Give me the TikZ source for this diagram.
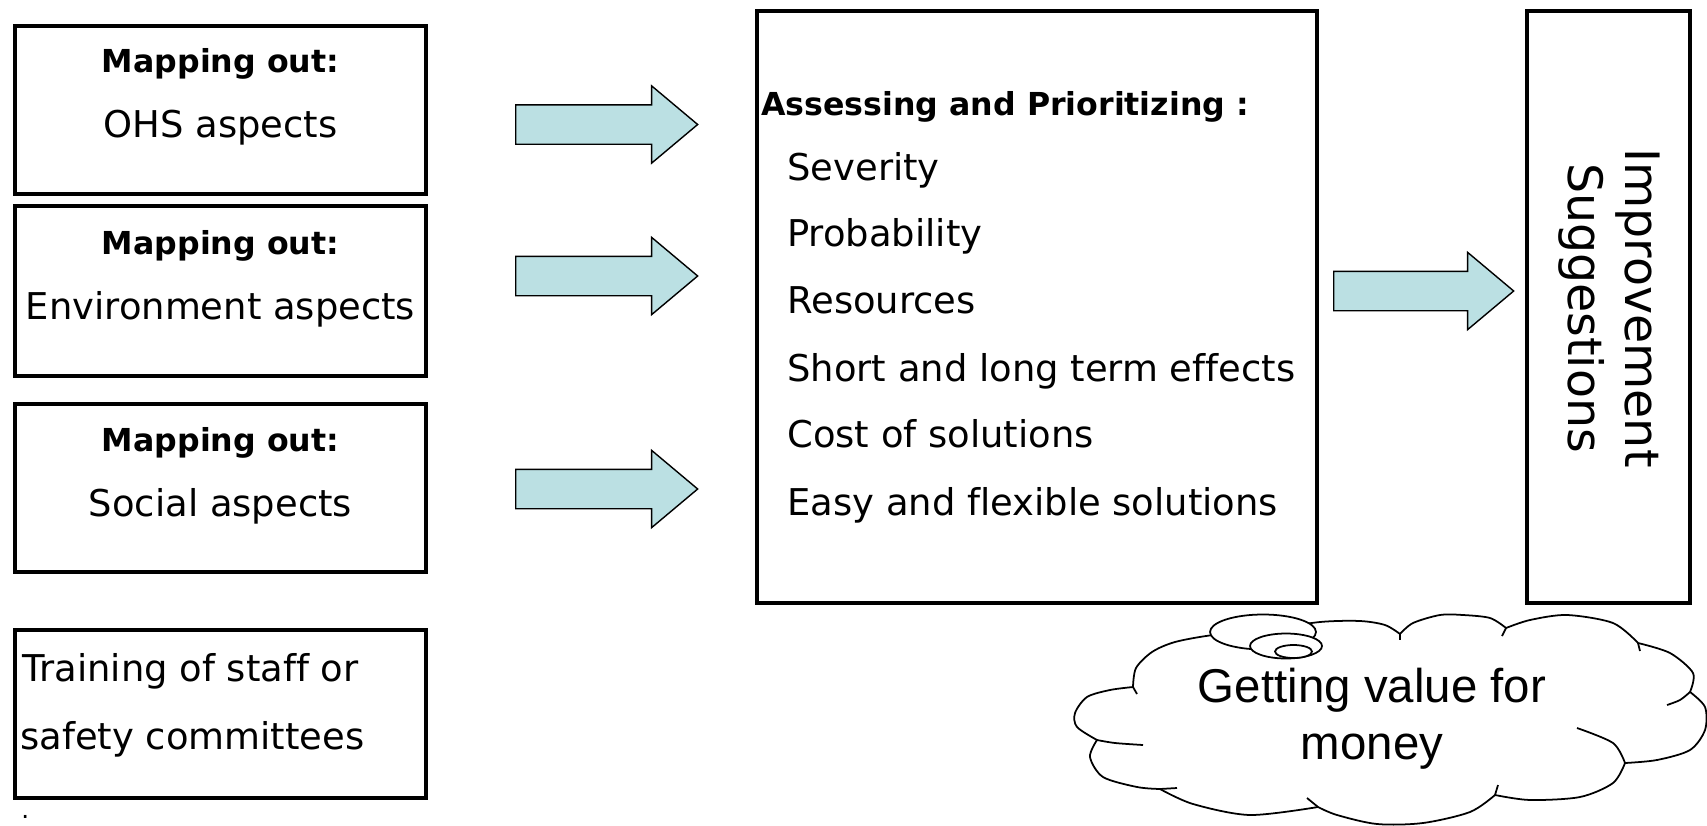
\documentclass[tikz,border=0pt]{standalone}
\usepackage{fontspec}
\setmainfont{DejaVu Sans}[Ligatures=NoCommon]
\newfontfamily\arialfont{Liberation Sans}
\usetikzlibrary{shapes.arrows,shapes.geometric}
\definecolor{arrowfill}{RGB}{187,224,227}
\tikzset{
  aspectbox/.style={draw,line width=2.3pt,minimum width=8.22cm,minimum height=3.36cm,inner sep=0pt},
  tallbox/.style={draw,line width=2.3pt,minimum height=11.84cm,inner sep=0pt},
  fatarrow/.style={single arrow,draw,fill=arrowfill,line width=0.8pt,inner xsep=0pt,inner ysep=0.38cm,
    single arrow head extend=0.38cm,single arrow tip angle=80,minimum height=3.64cm,anchor=tail},
  headtxt/.style={font=\bfseries\fontsize{18}{21.6}\selectfont,inner sep=0pt},
  itemtxt/.style={font=\fontsize{21}{25.2}\selectfont,inner sep=0pt},
  cloudline/.style={line width=1pt,line join=round},
  bubble/.style={ellipse,draw,fill=white,line width=1pt,inner sep=0pt},
}
\begin{document}
\begin{tikzpicture}[x=0.02cm,y=-0.02cm]
\useasboundingbox(0,0)rectangle(1707,825);
% left column
\node[aspectbox](ohs)at(220.5,110){};
\node[aspectbox,minimum height=3.4cm](env)at(220.5,291){};
\node[aspectbox](social)at(220.5,488){};
\node[aspectbox](training)at(220.5,714){};
\node[headtxt,anchor=base](ohshead)at(220.5,72.5){Mapping out:};
\node[itemtxt,anchor=base](ohstxt)at(220.5,137){OHS aspects};
\node[headtxt,anchor=base](envhead)at(220.5,254){Mapping out:};
\node[itemtxt,anchor=base](envtxt)at(220.5,319){Environment aspects};
\node[headtxt,anchor=base](socialhead)at(220.5,451){Mapping out:};
\node[itemtxt,anchor=base](socialtxt)at(220.5,516){Social aspects};
\node[itemtxt,anchor=base west](traina)at(22,681){Training of staff or};
\node[itemtxt,anchor=base west](trainb)at(20,749){safety committees};
\node[font=\fontsize{14}{16}\selectfont,inner sep=0pt,anchor=base west](dot)at(21,818){.};
% arrows
\node[fatarrow](arrowohs)at(515,124.5){};
\node[fatarrow](arrowenv)at(515,276){};
\node[fatarrow](arrowsocial)at(515,489){};
\node[fatarrow,minimum height=3.6cm](arrowassess)at(1333,291){};
% assessing box
\node[tallbox,minimum width=11.2cm](assess)at(1037,307){};
\node[headtxt,anchor=base west](assesshead)at(761,115){Assessing and Prioritizing :};
\node[itemtxt,anchor=base west](severity)at(787,180){Severity};
\node[itemtxt,anchor=base west](probability)at(787,246){Probability};
\node[itemtxt,anchor=base west](resources)at(787,313){Resources};
\node[itemtxt,anchor=base west](effects)at(787,381){Short and long term effects};
\node[itemtxt,anchor=base west](cost)at(787,447){Cost of solutions};
\node[itemtxt,anchor=base west](flexible)at(787,515){Easy and flexible solutions};
% suggestions box
\node[tallbox,minimum width=3.26cm](improve)at(1608.5,307){};
\node[rotate=-90,align=center,font=\fontsize{27}{32.4}\selectfont,inner sep=0pt](improvetxt)at(1609.5,308){Improvement\\Suggestions};
% cloud
\draw[cloudline,fill=white]
  plot[smooth]coordinates{(1133,687)(1136,668)(1152,652)(1175,642)(1213,635)(1265,630)}
  --plot[smooth]coordinates{(1265,630)(1320,622)(1360,621)(1385,625)(1400,634)}
  --plot[smooth]coordinates{(1400,634)(1413,623)(1440,615)(1463,615)(1490,618)(1506,628)}
  --plot[smooth]coordinates{(1506,628)(1530,620)(1567,615)(1613,623)(1638,643)}
  --plot[smooth]coordinates{(1638,643)(1670,653)(1693,673)(1690,692)}
  --plot[smooth]coordinates{(1690,692)(1705,707)(1705,730)(1690,750)(1657,760)(1625,763)}
  --plot[smooth]coordinates{(1625,763)(1613,783)(1580,797)(1530,800)(1495,795)}
  --plot[smooth]coordinates{(1495,795)(1470,812)(1423,823)(1377,824)(1337,815)(1318,807)}
  --plot[smooth]coordinates{(1318,807)(1250,815)(1193,804)(1160,789)}
  --plot[smooth]coordinates{(1160,789)(1137,787)(1103,777)(1090,757)(1097,740)}
  --plot[smooth]coordinates{(1097,740)(1077,727)(1075,713)(1087,697)(1110,690)(1133,687)}
  --cycle;
\draw[cloudline](1133,687)--(1137,694);
\draw[cloudline]plot[smooth]coordinates{(1097,740)(1115,743)(1143,745)};
\draw[cloudline](1160,789)--(1177,788);
\draw[cloudline](1318,807)--(1307,798);
\draw[cloudline](1495,795)--(1498,785);
\draw[cloudline]plot[smooth]coordinates{(1625,763)(1613,743)(1577,728)};
\draw[cloudline]plot[smooth]coordinates{(1690,692)(1680,700)(1667,705)};
\draw[cloudline](1638,643)--(1640,651);
\draw[cloudline](1506,628)--(1502,636);
\draw[cloudline](1400,634)--(1400,640);
\node[bubble,minimum width=2.12cm,minimum height=0.7cm](bubblea)at(1263,632){};
\node[bubble,minimum width=1.44cm,minimum height=0.5cm](bubbleb)at(1286,646){};
\node[bubble,minimum width=0.74cm,minimum height=0.26cm](bubblec)at(1293.5,651.5){};
\node[align=center,font=\arialfont\fontsize{27}{32.4}\selectfont,inner sep=0pt,anchor=base](cloudtxt)at(1372,759){Getting value for\\money};
\end{tikzpicture}
\end{document}
